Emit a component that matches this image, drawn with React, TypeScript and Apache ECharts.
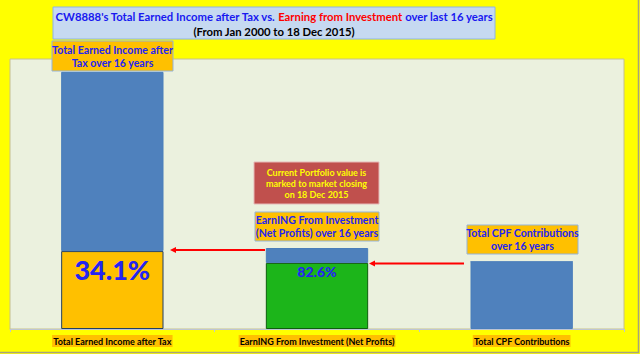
import React, { useEffect, useRef } from 'react';
import * as echarts from 'echarts';

const categories = [
  'Total Earned Income after Tax',
  'EarnING From Investment (Net Profits)',
  'Total CPF Contributions',
];
// values (arbitrary units, axis max 1050)
const lowerValues = [303, 257, 261];
const upperValues = [697, 58, 0];
const percentLabels = ['34.1%', '82.6%', ''];
const percentFontSizes = [27, 14, 0];
const lowerColors = ['#FFC000', '#1CB51A', '#4F81BD'];
const lowerBorders = ['#243F60', '#0E5E0E', '#4A7EBB'];

const titleLine1a = "CW8888's Total Earned Income after Tax vs. ";
const titleLine1b = 'Earning from Investment';
const titleLine1c = ' over last 16 years';
const titleLine2 = '(From Jan 2000 to 18 Dec 2015)';

const FONT = 'Lato, "Open Sans", sans-serif';
const BLUE_TXT = '#2424F2';

function box(
  x: number, y: number, w: number, h: number,
  fill: string, stroke: string, text: string, color: string,
  fontSize: number, lineHeight: number
) {
  return {
    type: 'group',
    children: [
      { type: 'rect', shape: { x, y, width: w, height: h }, style: { fill, stroke, lineWidth: 1 } },
      {
        type: 'text',
        style: {
          text, x: x + w / 2, y: y + h / 2, fill: color,
          fontSize, fontWeight: 'bold', fontFamily: FONT,
          align: 'center', verticalAlign: 'middle', lineHeight,
        },
      },
    ],
  };
}

function arrow(x1: number, x2: number, y: number) {
  return {
    type: 'group',
    children: [
      { type: 'line', shape: { x1, y1: y, x2: x2 + 4, y2: y }, style: { stroke: '#FF0000', lineWidth: 2 } },
      { type: 'polygon', shape: { points: [[x2, y], [x2 + 6, y - 3], [x2 + 6, y + 3]] }, style: { fill: '#FF0000' } },
    ],
  };
}

export default function App() {
  const ref = useRef<HTMLDivElement>(null);
  useEffect(() => {
    if (!ref.current) return;
    const chart = echarts.init(ref.current, undefined, { renderer: 'svg' });
    const TS = 11.3;
    chart.setOption({
      animation: false,
      backgroundColor: '#FFFF00',
      grid: {
        left: 10, right: 16, top: 59, bottom: 25,
        show: true, backgroundColor: '#EBF1DE', borderColor: '#C6C08E', borderWidth: 1,
      },
      xAxis: {
        type: 'category',
        data: categories,
        axisLine: { lineStyle: { color: '#BCC4D4', width: 1 } },
        axisTick: { show: true, length: 3, lineStyle: { color: '#BCC4D4' } },
        axisLabel: {
          interval: 0, margin: 6, color: '#000', fontWeight: 'bold', fontSize: 9,
          fontFamily: FONT, backgroundColor: '#FFC000', padding: [2, 1, 1, 1],
        },
      },
      yAxis: { type: 'value', min: 0, max: 1050, show: false, splitLine: { show: false } },
      series: [
        {
          type: 'bar', stack: 'a', barWidth: '50%',
          data: lowerValues.map((v, i) => ({
            value: v,
            itemStyle: { color: lowerColors[i], borderColor: lowerBorders[i], borderWidth: 1 },
            label: {
              show: percentLabels[i] !== '',
              position: 'insideTop', distance: i === 0 ? 5 : 2,
              formatter: percentLabels[i], color: BLUE_TXT, fontWeight: 900,
              fontSize: percentFontSizes[i] || 12, fontFamily: FONT,
            },
          })),
        },
        {
          type: 'bar', stack: 'a', barWidth: '50%',
          itemStyle: { color: '#4F81BD', borderColor: '#4A7EBB', borderWidth: 1 },
          data: upperValues,
        },
      ],
      graphic: [
        { type: 'rect', shape: { x: -2, y: -2, width: 640.5, height: 354.5 }, style: { fill: 'none', stroke: '#A8A47A', lineWidth: 1.5 }, silent: true },
        { type: 'rect', shape: { x: 53, y: 7, width: 442, height: 32 }, style: { fill: '#C6D9F1', stroke: '#8EB4E3', lineWidth: 1 } },
        {
          type: 'text',
          style: {
            text: `{b|${titleLine1a}}{r|${titleLine1b}}{b|${titleLine1c}}\n{k|${titleLine2}}`,
            x: 274, y: 24, align: 'center', verticalAlign: 'middle',
            fontFamily: FONT, fontWeight: 'bold', fontSize: TS, lineHeight: 15.5,
            rich: {
              b: { fill: '#1818F0', fontFamily: FONT, fontWeight: 'bold', fontSize: TS, lineHeight: 15.5 },
              r: { fill: '#FF0000', fontFamily: FONT, fontWeight: 'bold', fontSize: TS, lineHeight: 15.5 },
              k: { fill: '#000000', fontFamily: FONT, fontWeight: 'bold', fontSize: TS, lineHeight: 15.5 },
            },
          },
        },
        box(52, 41, 121, 30, '#FFC000', '#95B3D7', 'Total Earned Income after\nTax over 16 years', BLUE_TXT, 10.6, 13),
        box(254, 162, 125, 42, '#C0504D', '#E6B9B8', 'Current Portfolio value is\nmarked to market closing\non 18 Dec 2015', '#FFFF00', 9, 11),
        box(255, 212, 124, 29, '#FFC000', '#95B3D7', 'EarnING From Investment\n(Net Profits) over 16 years', BLUE_TXT, 10.6, 13),
        box(467, 225, 111, 29, '#FFC000', '#95B3D7', 'Total CPF Contributions\nover 16 years', BLUE_TXT, 10.6, 13),
        arrow(265, 170, 250),
        arrow(464, 369, 263.5),
      ],
    });
    return () => chart.dispose();
  }, []);
  return (
    <div
      ref={ref}
      style={{ position: 'fixed', left: 0, top: 0, width: 640, height: 354 }}
    />
  );
}
